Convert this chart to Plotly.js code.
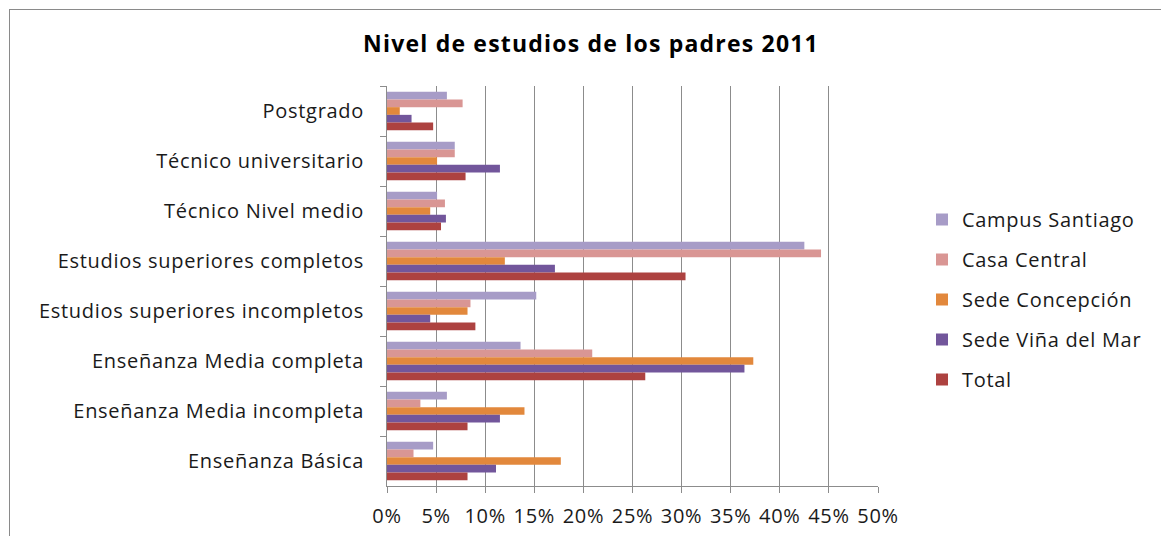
<!DOCTYPE html>
<html>
<head>
<meta charset="utf-8">
<script src="https://cdn.plot.ly/plotly-3.0.1.min.js"></script>
<style>
  html, body { margin: 0; padding: 0; background: #ffffff; }
  #wrap { position: relative; width: 1161px; height: 536px; overflow: hidden; }
  #frame { position: absolute; left: 9px; top: 9px; width: 1200px; height: 600px;
           border-top: 1px solid #8a8a8a; border-left: 1px solid #8a8a8a; pointer-events: none; }
  #chart { position: absolute; left: 0; top: 0; width: 1161px; height: 536px; }
  svg text { letter-spacing: 0.7px; }
  svg text.gtitle { letter-spacing: 1.2px; }
</style>
</head>
<body>
<div id="wrap">
  <div id="chart"></div>
  <div id="frame"></div>
</div>
<script>
// Categories, top to bottom
const categories = [
  "Postgrado",
  "Técnico universitario",
  "Técnico Nivel medio",
  "Estudios superiores completos",
  "Estudios superiores incompletos",
  "Enseñanza Media completa",
  "Enseñanza Media incompleta",
  "Enseñanza Básica"
];

// Series values (fractions), in category order above
const campusSantiago = [0.061, 0.069, 0.051, 0.425, 0.152, 0.136, 0.061, 0.047];
const casaCentral    = [0.077, 0.069, 0.059, 0.442, 0.085, 0.209, 0.034, 0.027];
const sedeConcepcion = [0.013, 0.051, 0.044, 0.120, 0.082, 0.373, 0.140, 0.177];
const sedeVinaDelMar = [0.025, 0.115, 0.060, 0.171, 0.044, 0.364, 0.115, 0.111];
const total          = [0.047, 0.080, 0.055, 0.304, 0.090, 0.263, 0.082, 0.082];

const seriesNames = ["Campus Santiago", "Casa Central", "Sede Concepción", "Sede Viña del Mar", "Total"];
const seriesValues = [campusSantiago, casaCentral, sedeConcepcion, sedeVinaDelMar, total];
const seriesColors = ["#a79cc7", "#d99694", "#e2883c", "#72569b", "#ad4240"];

const tickVals = [0, 0.05, 0.10, 0.15, 0.20, 0.25, 0.30, 0.35, 0.40, 0.45, 0.50];
const tickText = ["0%", "5%", "10%", "15%", "20%", "25%", "30%", "35%", "40%", "45%", "50%"];

const FONT = "'Open Sans', 'Noto Sans', sans-serif";

const traces = seriesNames.map((name, i) => ({
  type: "bar",
  orientation: "h",
  name: name,
  x: seriesValues[i],
  y: categories,
  legendgroup: "g" + i,
  marker: { color: seriesColors[i], line: { width: 0 } },
  hoverinfo: "x+y+name"
}));

const layout = {
  width: 1161,
  height: 536,
  paper_bgcolor: "rgba(0,0,0,0)",
  plot_bgcolor: "#ffffff",
  margin: { l: 387, r: 283, t: 86, b: 50, pad: 0 },
  barmode: "group",
  bargap: 0.23,
  bargroupgap: 0,
  font: { family: FONT, size: 20, color: "#1a1a1a" },
  title: {
    text: "<b>Nivel de estudios de los padres 2011</b>",
    font: { family: FONT, size: 23, color: "#000000" },
    x: 591 / 1161,
    xanchor: "center",
    xref: "container",
    y: 1 - 44 / 536,
    yanchor: "middle",
    yref: "container"
  },
  xaxis: {
    range: [0, 0.5],
    tickvals: tickVals,
    ticktext: tickText,
    showgrid: true,
    gridcolor: "#8c8c8c",
    gridwidth: 1,
    zeroline: false,
    showline: true,
    linecolor: "#8c8c8c",
    linewidth: 1,
    ticks: "outside",
    ticklen: 6,
    tickcolor: "#8c8c8c",
    ticklabelstandoff: 6,
    tickfont: { family: FONT, size: 20, color: "#1a1a1a" },
    fixedrange: true
  },
  yaxis: {
    type: "category",
    categoryorder: "array",
    categoryarray: categories,
    autorange: "reversed",
    showgrid: false,
    zeroline: false,
    showline: true,
    linecolor: "#8c8c8c",
    linewidth: 1,
    ticks: "outside",
    tickson: "boundaries",
    ticklen: 6,
    tickcolor: "#8c8c8c",
    ticklabelstandoff: 18,
    tickfont: { family: FONT, size: 20, color: "#1a1a1a" },
    fixedrange: true
  },
  showlegend: true,
  legend: {
    xref: "container",
    yref: "container",
    x: 922 / 1161,
    xanchor: "left",
    y: 1 - 200 / 536,
    yanchor: "top",
    traceorder: "grouped",
    tracegroupgap: 11,
    font: { family: FONT, size: 20, color: "#1a1a1a" },
    bgcolor: "rgba(0,0,0,0)",
    borderwidth: 0
  }
};

Plotly.newPlot("chart", traces, layout, { displayModeBar: false, staticPlot: true });
</script>
</body>
</html>
